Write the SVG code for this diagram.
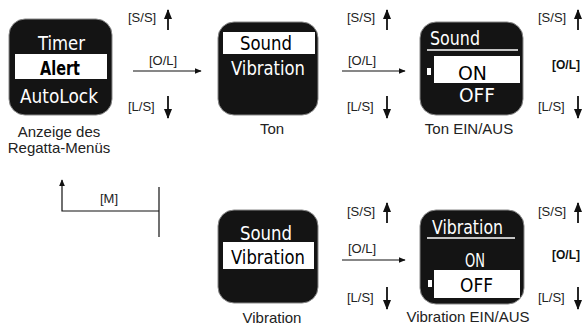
<svg xmlns="http://www.w3.org/2000/svg" width="585" height="326" viewBox="0 0 585 326">
<style>
.scr{fill:#141414;stroke:#888;stroke-width:1}
.band{fill:#fff}
.lcd{font-family:"DejaVu Sans Condensed","DejaVu Sans",sans-serif;font-size:20px;fill:#fff}
.lcdk{font-family:"DejaVu Sans Condensed","DejaVu Sans",sans-serif;font-size:20px;fill:#000}
.cap{font-family:"Liberation Sans",Arial,sans-serif;font-size:15px;fill:#222;text-anchor:middle}
.key{font-family:"Liberation Sans",Arial,sans-serif;font-size:13px;fill:#222}
.keyb{font-family:"Liberation Sans",Arial,sans-serif;font-size:12px;font-weight:bold;fill:#111}
.ln{stroke:#111;stroke-width:1.8;fill:none}
.thin{stroke:#111;stroke-width:1.2;fill:none}
</style>
<defs>
<marker id="ah" viewBox="0 0 10 10" refX="9" refY="5" markerWidth="7" markerHeight="6" preserveAspectRatio="none" markerUnits="userSpaceOnUse" orient="auto"><path d="M0,0L10,5L0,10z" fill="#111"/></marker>
<marker id="ahb" viewBox="0 0 10 10" refX="9" refY="5" markerWidth="10" markerHeight="8" preserveAspectRatio="none" markerUnits="userSpaceOnUse" orient="auto"><path d="M0,0L10,5L0,10z" fill="#111"/></marker>
</defs>

<g id="screen-menu">
<rect class="scr" x="9" y="19" width="103" height="96" rx="16"/>
<rect class="band" x="15" y="54" width="92" height="25"/>
<text class="lcd" x="38" y="50" textLength="47" lengthAdjust="spacingAndGlyphs">Timer</text>
<text class="lcdk" x="40" y="75" font-weight="bold" textLength="40" lengthAdjust="spacingAndGlyphs">Alert</text>
<text class="lcd" x="20" y="103" textLength="78" lengthAdjust="spacingAndGlyphs">AutoLock</text>
<text class="cap" x="59" y="137">Anzeige des</text>
<text class="cap" x="59" y="153">Regatta-Menüs</text>
</g>

<g id="screen-ton">
<rect class="scr" x="218" y="22" width="100" height="93" rx="16"/>
<rect class="band" x="223" y="32" width="92" height="22"/>
<text class="lcdk" x="240" y="50" textLength="52" lengthAdjust="spacingAndGlyphs">Sound</text>
<text class="lcd" x="231" y="75" textLength="74" lengthAdjust="spacingAndGlyphs">Vibration</text>
<text class="cap" x="272" y="134">Ton</text>
</g>

<g id="screen-ton-einaus">
<rect class="scr" x="420" y="22" width="103" height="93" rx="16"/>
<text class="lcd" x="430" y="45" textLength="50" lengthAdjust="spacingAndGlyphs">Sound</text>
<line x1="427" y1="50" x2="518" y2="50" stroke="#fff" stroke-width="1.5"/>
<rect class="band" x="434" y="56" width="86" height="27"/>
<rect class="band" x="427" y="68" width="4" height="7"/>
<text class="lcdk" x="458" y="80" textLength="29" lengthAdjust="spacingAndGlyphs">ON</text>
<text class="lcd" x="459" y="102" textLength="36" lengthAdjust="spacingAndGlyphs">OFF</text>
<text class="cap" x="469" y="134">Ton EIN/AUS</text>
</g>

<g id="screen-vibration">
<rect class="scr" x="218" y="210" width="100" height="93" rx="16"/>
<text class="lcd" x="240" y="240" textLength="52" lengthAdjust="spacingAndGlyphs">Sound</text>
<rect class="band" x="223" y="242" width="91" height="27"/>
<text class="lcdk" x="231" y="264" textLength="74" lengthAdjust="spacingAndGlyphs">Vibration</text>
<text class="cap" x="272" y="323">Vibration</text>
</g>

<g id="screen-vibration-einaus">
<rect class="scr" x="420" y="210" width="104" height="94" rx="16"/>
<text class="lcd" x="432" y="234" textLength="71" lengthAdjust="spacingAndGlyphs">Vibration</text>
<line x1="427" y1="238" x2="515" y2="238" stroke="#fff" stroke-width="1.5"/>
<text class="lcd" x="465" y="267" textLength="20" lengthAdjust="spacingAndGlyphs">ON</text>
<rect class="band" x="434" y="270" width="86" height="28"/>
<rect class="band" x="428" y="280" width="4" height="7"/>
<text class="lcdk" x="460" y="292" textLength="33" lengthAdjust="spacingAndGlyphs">OFF</text>
<text class="cap" x="468" y="322">Vibration EIN/AUS</text>
</g>

<g id="connectors">
<text class="key" x="128" y="22">[S/S]</text>
<line class="ln" x1="168" y1="30" x2="168" y2="10" marker-end="url(#ahb)"/>
<text class="key" x="149" y="65">[O/L]</text>
<line class="thin" x1="133" y1="71" x2="201" y2="71" marker-end="url(#ah)"/>
<text class="key" x="128" y="111">[L/S]</text>
<line class="ln" x1="168" y1="96" x2="168" y2="118" marker-end="url(#ahb)"/>
<text class="key" x="347" y="22">[S/S]</text>
<line class="ln" x1="387" y1="30" x2="387" y2="10" marker-end="url(#ahb)"/>
<text class="key" x="348" y="65">[O/L]</text>
<line class="thin" x1="342" y1="71" x2="405" y2="71" marker-end="url(#ah)"/>
<text class="key" x="347" y="111">[L/S]</text>
<line class="ln" x1="387" y1="96" x2="387" y2="118" marker-end="url(#ahb)"/>
<text class="key" x="538" y="22">[S/S]</text>
<line class="ln" x1="578" y1="30" x2="578" y2="10" marker-end="url(#ahb)"/>
<text class="keyb" x="552" y="69">[O/L]</text>
<text class="key" x="538" y="111">[L/S]</text>
<line class="ln" x1="578" y1="96" x2="578" y2="118" marker-end="url(#ahb)"/>
<polyline class="thin" points="159,187 159,237"/>
<polyline class="thin" points="159,211 62,211 62,180" marker-end="url(#ah)"/>
<text class="key" x="100" y="203">[M]</text>
<text class="key" x="347" y="216">[S/S]</text>
<line class="ln" x1="387" y1="223" x2="387" y2="203" marker-end="url(#ahb)"/>
<text class="key" x="348" y="253">[O/L]</text>
<line class="thin" x1="342" y1="260" x2="405" y2="260" marker-end="url(#ah)"/>
<text class="key" x="347" y="302">[L/S]</text>
<line class="ln" x1="387" y1="287" x2="387" y2="309" marker-end="url(#ahb)"/>
<text class="key" x="538" y="216">[S/S]</text>
<line class="ln" x1="578" y1="223" x2="578" y2="203" marker-end="url(#ahb)"/>
<text class="keyb" x="552" y="259">[O/L]</text>
<text class="key" x="538" y="302">[L/S]</text>
<line class="ln" x1="578" y1="287" x2="578" y2="309" marker-end="url(#ahb)"/>
</g>
</svg>
